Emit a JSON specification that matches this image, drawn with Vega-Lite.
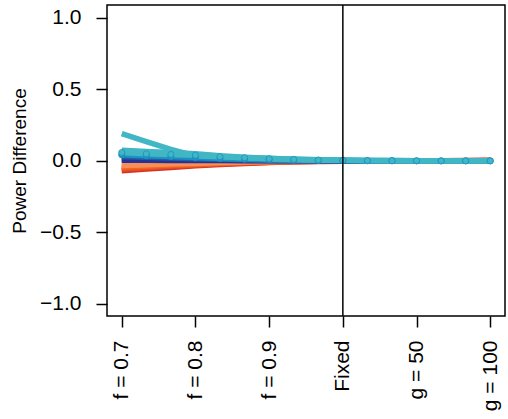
{
  "$schema": "https://vega.github.io/schema/vega-lite/v6.json",
  "width": 398,
  "height": 311,
  "autosize": {"type": "none"},
  "padding": {"left": 107, "top": 5, "right": 3, "bottom": 103},
  "config": {
    "view": {"stroke": "black", "strokeWidth": 1.5},
    "font": "Liberation Sans",
    "axis": {"grid": false, "domain": false, "tickColor": "black", "tickWidth": 1.5, "tickSize": 11, "labelColor": "black", "labelFontSize": 21, "titleFontSize": 19, "titleFontWeight": "normal", "titleColor": "black"}
  },
  "datasets": {
    "lines": [
      {"s": "a01", "x": 0, "y": -0.07}, {"s": "a01", "x": 0.3333, "y": -0.057}, {"s": "a01", "x": 0.6667, "y": -0.046}, {"s": "a01", "x": 1, "y": -0.035}, {"s": "a01", "x": 1.3333, "y": -0.025}, {"s": "a01", "x": 1.6667, "y": -0.018}, {"s": "a01", "x": 2, "y": -0.011}, {"s": "a01", "x": 2.3333, "y": -0.007}, {"s": "a01", "x": 2.6667, "y": -0.004}, {"s": "a01", "x": 3, "y": -0.002}, {"s": "a01", "x": 3.3333, "y": -0.001}, {"s": "a01", "x": 3.6667, "y": -0.001}, {"s": "a01", "x": 4, "y": 0}, {"s": "a01", "x": 4.3333, "y": 0.001}, {"s": "a01", "x": 4.6667, "y": 0.002}, {"s": "a01", "x": 5, "y": 0.004},
      {"s": "a02", "x": 0, "y": -0.058}, {"s": "a02", "x": 0.3333, "y": -0.048}, {"s": "a02", "x": 0.6667, "y": -0.038}, {"s": "a02", "x": 1, "y": -0.029}, {"s": "a02", "x": 1.3333, "y": -0.021}, {"s": "a02", "x": 1.6667, "y": -0.015}, {"s": "a02", "x": 2, "y": -0.009}, {"s": "a02", "x": 2.3333, "y": -0.006}, {"s": "a02", "x": 2.6667, "y": -0.003}, {"s": "a02", "x": 3, "y": -0.002}, {"s": "a02", "x": 3.3333, "y": -0.001}, {"s": "a02", "x": 3.6667, "y": 0}, {"s": "a02", "x": 4, "y": 0}, {"s": "a02", "x": 4.3333, "y": 0}, {"s": "a02", "x": 4.6667, "y": 0.001}, {"s": "a02", "x": 5, "y": 0.003},
      {"s": "a03", "x": 0, "y": -0.045}, {"s": "a03", "x": 0.3333, "y": -0.037}, {"s": "a03", "x": 0.6667, "y": -0.029}, {"s": "a03", "x": 1, "y": -0.023}, {"s": "a03", "x": 1.3333, "y": -0.016}, {"s": "a03", "x": 1.6667, "y": -0.011}, {"s": "a03", "x": 2, "y": -0.007}, {"s": "a03", "x": 2.3333, "y": -0.005}, {"s": "a03", "x": 2.6667, "y": -0.003}, {"s": "a03", "x": 3, "y": -0.001}, {"s": "a03", "x": 3.3333, "y": -0.001}, {"s": "a03", "x": 3.6667, "y": 0}, {"s": "a03", "x": 4, "y": 0}, {"s": "a03", "x": 4.3333, "y": 0}, {"s": "a03", "x": 4.6667, "y": 0}, {"s": "a03", "x": 5, "y": 0.001},
      {"s": "a04", "x": 0, "y": -0.033}, {"s": "a04", "x": 0.3333, "y": -0.027}, {"s": "a04", "x": 0.6667, "y": -0.021}, {"s": "a04", "x": 1, "y": -0.017}, {"s": "a04", "x": 1.3333, "y": -0.012}, {"s": "a04", "x": 1.6667, "y": -0.008}, {"s": "a04", "x": 2, "y": -0.005}, {"s": "a04", "x": 2.3333, "y": -0.003}, {"s": "a04", "x": 2.6667, "y": -0.002}, {"s": "a04", "x": 3, "y": -0.001}, {"s": "a04", "x": 3.3333, "y": 0}, {"s": "a04", "x": 3.6667, "y": 0}, {"s": "a04", "x": 4, "y": 0}, {"s": "a04", "x": 4.3333, "y": 0}, {"s": "a04", "x": 4.6667, "y": 0}, {"s": "a04", "x": 5, "y": 0},
      {"s": "a05", "x": 0, "y": 0.005}, {"s": "a05", "x": 0.3333, "y": 0.004}, {"s": "a05", "x": 0.6667, "y": 0.003}, {"s": "a05", "x": 1, "y": 0.003}, {"s": "a05", "x": 1.3333, "y": 0.002}, {"s": "a05", "x": 1.6667, "y": 0.001}, {"s": "a05", "x": 2, "y": 0.001}, {"s": "a05", "x": 2.3333, "y": 0}, {"s": "a05", "x": 2.6667, "y": 0}, {"s": "a05", "x": 3, "y": 0}, {"s": "a05", "x": 3.3333, "y": 0}, {"s": "a05", "x": 3.6667, "y": 0}, {"s": "a05", "x": 4, "y": 0}, {"s": "a05", "x": 4.3333, "y": 0}, {"s": "a05", "x": 4.6667, "y": 0}, {"s": "a05", "x": 5, "y": 0},
      {"s": "a06", "x": 0, "y": 0.015}, {"s": "a06", "x": 0.3333, "y": 0.012}, {"s": "a06", "x": 0.6667, "y": 0.01}, {"s": "a06", "x": 1, "y": 0.008}, {"s": "a06", "x": 1.3333, "y": 0.005}, {"s": "a06", "x": 1.6667, "y": 0.004}, {"s": "a06", "x": 2, "y": 0.002}, {"s": "a06", "x": 2.3333, "y": 0.002}, {"s": "a06", "x": 2.6667, "y": 0.001}, {"s": "a06", "x": 3, "y": 0}, {"s": "a06", "x": 3.3333, "y": 0}, {"s": "a06", "x": 3.6667, "y": 0}, {"s": "a06", "x": 4, "y": 0}, {"s": "a06", "x": 4.3333, "y": 0}, {"s": "a06", "x": 4.6667, "y": 0}, {"s": "a06", "x": 5, "y": 0},
      {"s": "a07", "x": 0, "y": 0.03}, {"s": "a07", "x": 0.3333, "y": 0.025}, {"s": "a07", "x": 0.6667, "y": 0.02}, {"s": "a07", "x": 1, "y": 0.015}, {"s": "a07", "x": 1.3333, "y": 0.011}, {"s": "a07", "x": 1.6667, "y": 0.008}, {"s": "a07", "x": 2, "y": 0.005}, {"s": "a07", "x": 2.3333, "y": 0.003}, {"s": "a07", "x": 2.6667, "y": 0.002}, {"s": "a07", "x": 3, "y": 0.001}, {"s": "a07", "x": 3.3333, "y": 0.001}, {"s": "a07", "x": 3.6667, "y": 0}, {"s": "a07", "x": 4, "y": 0}, {"s": "a07", "x": 4.3333, "y": 0}, {"s": "a07", "x": 4.6667, "y": 0}, {"s": "a07", "x": 5, "y": 0},
      {"s": "a08", "x": 0, "y": 0.042}, {"s": "a08", "x": 0.3333, "y": 0.036}, {"s": "a08", "x": 0.6667, "y": 0.03}, {"s": "a08", "x": 1, "y": 0.024}, {"s": "a08", "x": 1.3333, "y": 0.017}, {"s": "a08", "x": 1.6667, "y": 0.012}, {"s": "a08", "x": 2, "y": 0.008}, {"s": "a08", "x": 2.3333, "y": 0.005}, {"s": "a08", "x": 2.6667, "y": 0.003}, {"s": "a08", "x": 3, "y": 0.002}, {"s": "a08", "x": 3.3333, "y": 0.001}, {"s": "a08", "x": 3.6667, "y": 0.001}, {"s": "a08", "x": 4, "y": 0}, {"s": "a08", "x": 4.3333, "y": 0}, {"s": "a08", "x": 4.6667, "y": 0}, {"s": "a08", "x": 5, "y": 0},
      {"s": "a09", "x": 0, "y": 0.058}, {"s": "a09", "x": 0.3333, "y": 0.05}, {"s": "a09", "x": 0.6667, "y": 0.045}, {"s": "a09", "x": 1, "y": 0.04}, {"s": "a09", "x": 1.3333, "y": 0.03}, {"s": "a09", "x": 1.6667, "y": 0.022}, {"s": "a09", "x": 2, "y": 0.015}, {"s": "a09", "x": 2.3333, "y": 0.01}, {"s": "a09", "x": 2.6667, "y": 0.006}, {"s": "a09", "x": 3, "y": 0.004}, {"s": "a09", "x": 3.3333, "y": 0.002}, {"s": "a09", "x": 3.6667, "y": 0.001}, {"s": "a09", "x": 4, "y": 0.001}, {"s": "a09", "x": 4.3333, "y": 0}, {"s": "a09", "x": 4.6667, "y": 0}, {"s": "a09", "x": 5, "y": 0},
      {"s": "a10", "x": 0, "y": 0.075}, {"s": "a10", "x": 0.3333, "y": 0.065}, {"s": "a10", "x": 0.6667, "y": 0.058}, {"s": "a10", "x": 1, "y": 0.05}, {"s": "a10", "x": 1.3333, "y": 0.035}, {"s": "a10", "x": 1.6667, "y": 0.025}, {"s": "a10", "x": 2, "y": 0.018}, {"s": "a10", "x": 2.3333, "y": 0.012}, {"s": "a10", "x": 2.6667, "y": 0.008}, {"s": "a10", "x": 3, "y": 0.005}, {"s": "a10", "x": 3.3333, "y": 0.003}, {"s": "a10", "x": 3.6667, "y": 0.002}, {"s": "a10", "x": 4, "y": 0.001}, {"s": "a10", "x": 4.3333, "y": 0.001}, {"s": "a10", "x": 4.6667, "y": 0}, {"s": "a10", "x": 5, "y": 0},
      {"s": "a11", "x": 0, "y": 0.19}, {"s": "a11", "x": 0.3333, "y": 0.135}, {"s": "a11", "x": 0.6667, "y": 0.08}, {"s": "a11", "x": 1, "y": 0.035}, {"s": "a11", "x": 1.3333, "y": 0.028}, {"s": "a11", "x": 1.6667, "y": 0.022}, {"s": "a11", "x": 2, "y": 0.017}, {"s": "a11", "x": 2.3333, "y": 0.012}, {"s": "a11", "x": 2.6667, "y": 0.008}, {"s": "a11", "x": 3, "y": 0.005}, {"s": "a11", "x": 3.3333, "y": 0.003}, {"s": "a11", "x": 3.6667, "y": 0.002}, {"s": "a11", "x": 4, "y": 0.001}, {"s": "a11", "x": 4.3333, "y": 0.001}, {"s": "a11", "x": 4.6667, "y": 0}, {"s": "a11", "x": 5, "y": 0}
    ],
    "vline": [{"x": 3}]
  },
  "layer": [
    {
      "data": {"name": "lines"},
      "mark": {"type": "line", "strokeWidth": 5.5, "strokeCap": "butt", "clip": true},
      "encoding": {
        "x": {"field": "x", "type": "quantitative", "scale": {"domain": [-0.2, 5.2], "nice": false, "zero": false},
          "axis": {"values": [0, 1, 2, 3, 4, 5], "title": null, "labelAngle": 270, "labelAlign": "right", "labelBaseline": "middle", "labelPadding": 13,
            "labelExpr": "['f = 0.7','f = 0.8','f = 0.9','Fixed','g = 50','g = 100'][datum.value]"}},
        "y": {"field": "y", "type": "quantitative", "scale": {"domain": [-1.085, 1.09], "nice": false, "zero": false},
          "axis": {"values": [-1, -0.5, 0, 0.5, 1], "format": ".1f", "labelExpr": "replace(datum.label, '-', '\u2212')", "title": "Power Difference", "titlePadding": 10, "labelPadding": 15}},
        "color": {"field": "s", "type": "nominal", "legend": null,
          "scale": {"domain": ["a01", "a02", "a03", "a04", "a05", "a06", "a07", "a08", "a09", "a10", "a11"], "range": ["#d7301f", "#e34a33", "#f16913", "#fc8d59", "#253494", "#253494", "#225ea8", "#1d91c0", "#41b6c4", "#41b6c4", "#41b6c4"]}}
      }
    },
    {
      "data": {"name": "lines"},
      "transform": [{"filter": "datum.s == 'a08' || datum.s == 'a09'"}],
      "mark": {"type": "point", "filled": true, "size": 38, "opacity": 1, "stroke": "#1d91c0", "strokeWidth": 0.8},
      "encoding": {
        "x": {"field": "x", "type": "quantitative"},
        "y": {"field": "y", "type": "quantitative"},
        "color": {"field": "s", "type": "nominal", "legend": null}
      }
    },
    {
      "data": {"name": "vline"},
      "mark": {"type": "rule", "color": "black", "strokeWidth": 1.5},
      "encoding": {"x": {"field": "x", "type": "quantitative"}}
    }
  ]
}
